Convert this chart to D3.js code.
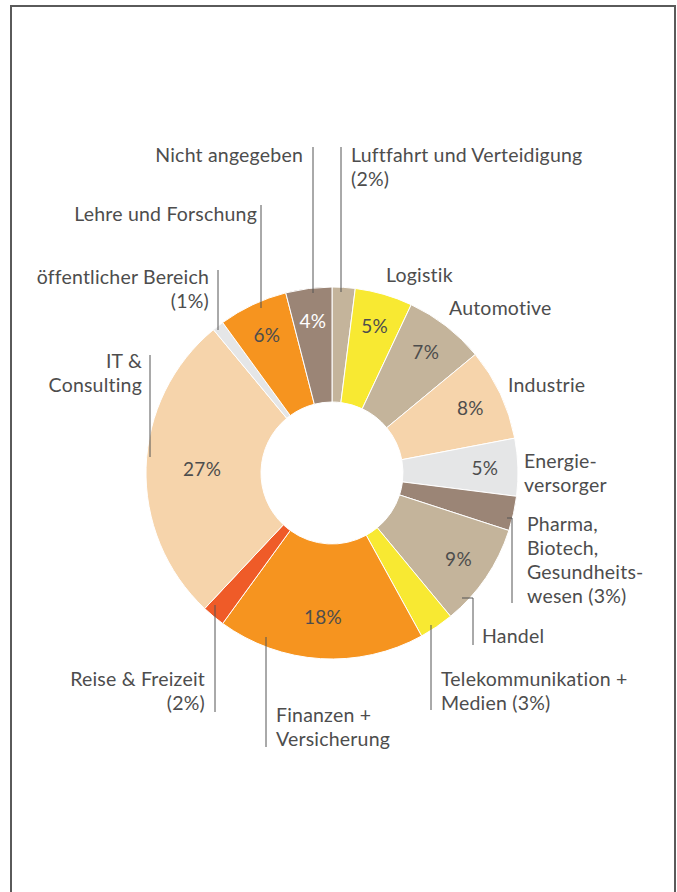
<!DOCTYPE html>
<html>
<head>
<meta charset="utf-8">
<script src="https://cdn.jsdelivr.net/npm/d3@7"></script>
<style>
  body { margin: 0; background: #fff; }
  text { font-family: Lato, 'Open Sans', sans-serif; }
</style>
</head>
<body>
<div id="chart"></div>
<script>
// Branchen, clockwise starting at 12 o'clock
const categories = [
  'Luftfahrt und Verteidigung', 'Logistik', 'Automotive', 'Industrie',
  'Energieversorger', 'Pharma, Biotech, Gesundheitswesen', 'Handel',
  'Telekommunikation + Medien', 'Finanzen + Versicherung', 'Reise & Freizeit',
  'IT & Consulting', 'öffentlicher Bereich', 'Lehre und Forschung', 'Nicht angegeben'
];
const values = [2, 5, 7, 8, 5, 3, 9, 3, 18, 2, 27, 1, 6, 4];
const colors = [
  '#c4b49b', '#f8e932', '#c4b49b', '#f6d4ab', '#e5e6e7', '#9b8576', '#c4b49b',
  '#f8e932', '#f6941f', '#ef5b28', '#f6d4ab', '#e5e6e7', '#f6941f', '#9b8576'
];
// slices with a percentage written inside (others get it in the outer label)
const showInside = [false, true, true, true, true, false, true, false, true, false, true, false, true, true];

// outer labels: text lines, anchor, leader line (layout only)
const labels = [
  { lines: ['Luftfahrt und Verteidigung', '(2%)'], x: 351, y: 162, anchor: 'start', line: [[341, 147], [341, 292]] },
  { lines: ['Logistik'], x: 386, y: 282, anchor: 'start' },
  { lines: ['Automotive'], x: 449, y: 315, anchor: 'start' },
  { lines: ['Industrie'], x: 508, y: 392, anchor: 'start' },
  { lines: ['Energie-', 'versorger'], x: 524, y: 468, anchor: 'start' },
  { lines: ['Pharma,', 'Biotech,', 'Gesundheits-', 'wesen (3%)'], x: 527, y: 531, anchor: 'start', line: [[507, 518], [512, 518], [512, 603]] },
  { lines: ['Handel'], x: 482, y: 643, anchor: 'start', line: [[462, 598], [473, 598], [473, 645]] },
  { lines: ['Telekommunikation +', 'Medien (3%)'], x: 441, y: 686, anchor: 'start', line: [[431, 625], [431, 710]] },
  { lines: ['Finanzen +', 'Versicherung'], x: 276, y: 722, anchor: 'start', line: [[266, 637], [266, 747]] },
  { lines: ['Reise & Freizeit', '(2%)'], x: 205, y: 686, anchor: 'end', line: [[215, 605], [215, 712]] },
  { lines: ['IT &', 'Consulting'], x: 142, y: 368, anchor: 'end', line: [[150, 355], [150, 457]] },
  { lines: ['öffentlicher Bereich', '(1%)'], x: 209, y: 284, anchor: 'end', line: [[218, 270], [218, 330]] },
  { lines: ['Lehre und Forschung'], x: 257, y: 221, anchor: 'end', line: [[261, 205], [261, 308]] },
  { lines: ['Nicht angegeben'], x: 303, y: 162, anchor: 'end', line: [[313, 147], [313, 293]] }
];

const width = 677, height = 892;
const cx = 332, cy = 473;
const outerR = 186, innerR = 71;
const textColor = '#4d4d4d';

const svg = d3.select('#chart').append('svg')
  .attr('width', width)
  .attr('height', height);

// frame
svg.append('rect')
  .attr('x', 11).attr('y', 6)
  .attr('width', 664).attr('height', 900)
  .attr('fill', 'none')
  .attr('stroke', '#5a5a5a')
  .attr('stroke-width', 2);

const data = categories.map((c, i) => ({ name: c, value: values[i], color: colors[i], inside: showInside[i] }));

const pie = d3.pie().value(d => d.value).sort(null);
const arc = d3.arc().innerRadius(innerR).outerRadius(outerR);
const arcs = pie(data);

const g = svg.append('g').attr('transform', 'translate(' + cx + ',' + cy + ')');

g.selectAll('path')
  .data(arcs)
  .enter()
  .append('path')
  .attr('d', arc)
  .attr('fill', d => d.data.color)
  .attr('stroke', '#fff')
  .attr('stroke-width', 1);

// percentage inside the ring; the big slices sit a bit further in
function labelRadius(v) {
  if (v > 20) return 130;
  if (v > 15) return 144;
  return 153;
}

g.selectAll('text.pct')
  .data(arcs.filter(d => d.data.inside))
  .enter()
  .append('text')
  .attr('class', 'pct')
  .attr('transform', d => {
    const r = labelRadius(d.data.value);
    const c = d3.arc().innerRadius(r).outerRadius(r).centroid(d);
    return 'translate(' + c[0] + ',' + c[1] + ')';
  })
  .attr('dy', '0.38em')
  .attr('text-anchor', 'middle')
  .attr('font-size', 19)
  .attr('letter-spacing', 0.3)
  .attr('fill', d => d.data.name === 'Nicht angegeben' ? '#fff' : textColor)
  .text(d => d.data.value + '%');

// leader lines
svg.selectAll('path.leader')
  .data(labels.filter(l => l.line))
  .enter()
  .append('path')
  .attr('class', 'leader')
  .attr('d', l => d3.line()(l.line))
  .attr('fill', 'none')
  .attr('stroke', '#555')
  .attr('stroke-width', 1);

// outer labels
const lab = svg.selectAll('text.label')
  .data(labels)
  .enter()
  .append('text')
  .attr('class', 'label')
  .attr('x', l => l.x)
  .attr('y', l => l.y)
  .attr('text-anchor', l => l.anchor)
  .attr('font-size', 19.5)
  .attr('letter-spacing', 0.2)
  .attr('fill', textColor);

lab.selectAll('tspan')
  .data(l => l.lines.map((t, i) => ({ t: t, i: i, x: l.x })))
  .enter()
  .append('tspan')
  .attr('x', d => d.x)
  .attr('dy', d => d.i === 0 ? 0 : 24)
  .text(d => d.t);
</script>
</body>
</html>
